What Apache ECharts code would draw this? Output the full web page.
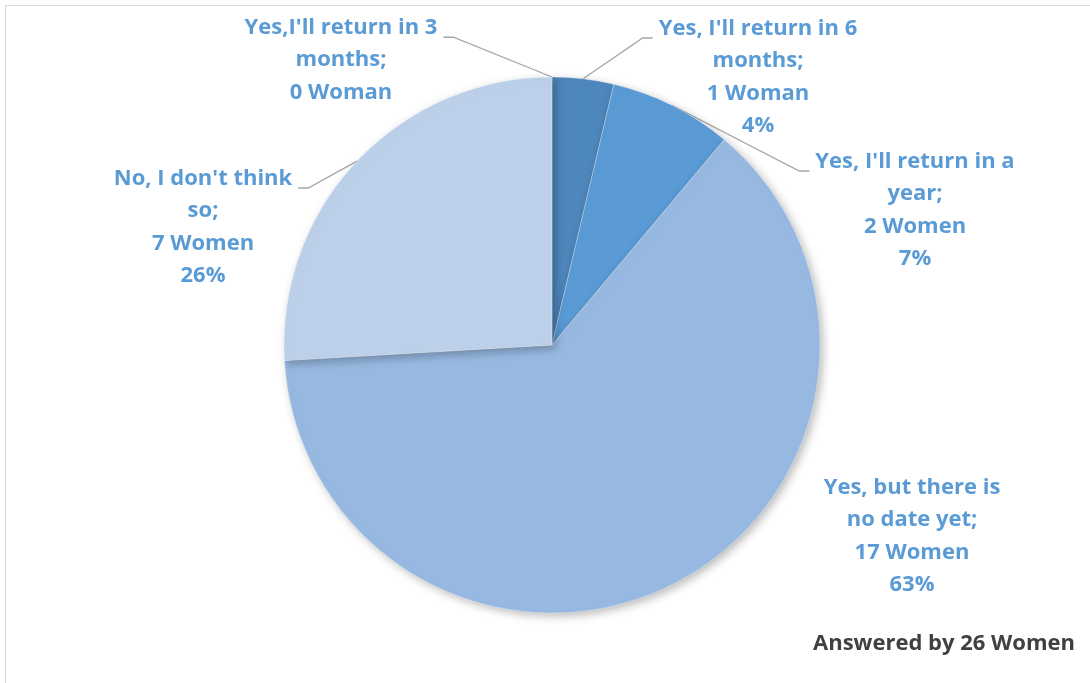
<!DOCTYPE html>
<html>
<head>
<meta charset="utf-8">
<script src="https://cdn.jsdelivr.net/npm/echarts@6/dist/echarts.min.js"></script>
<style>
  html, body { margin: 0; padding: 0; background: #fff; }
  #frame { position: absolute; left: 5px; top: 5px; width: 1090px; height: 683px;
           border-left: 1.5px solid #d9d9d9; border-top: 1.5px solid #d9d9d9; }
  #chart { position: absolute; left: 0; top: 0; width: 1090px; height: 683px; }
</style>
</head>
<body>
<div id="frame"></div>
<div id="chart"></div>
<script>
// Answers to "Will you return?"
const answers = [
  "Yes,I'll return in 3\nmonths;",
  "Yes, I'll return in 6\nmonths;",
  "Yes, I'll return in a\nyear;",
  "Yes, but there is\nno date yet;",
  "No, I don't think\nso;"
];
const counts = [0, 1, 2, 17, 7];
const countText = ["0 Woman", "1 Woman", "2 Women", "17 Women", "7 Women"];
const sliceColors = ["#41729f", "#4e87bc", "#5a9ad5", "#97b8e0", "#bdd0ea"];
const footnote = "Answered by 26 Women";

// pie geometry and where each label block sits (centre of the text block)
const PIE_CENTER = [552, 345];
const PIE_RADIUS = 268;
const LINE_HEIGHT = 32.5;
const labelSpots = [[341, 60], [758, 77], [915, 210], [912, 536], [203, 227]];

const total = counts.reduce((a, b) => a + b, 0);

// mid angle of each slice, clockwise from 12 o'clock
const midAngles = [];
{
  let acc = 0;
  counts.forEach(v => {
    midAngles.push((acc + v / 2) / total * 2 * Math.PI);
    acc += v;
  });
}

const chart = echarts.init(document.getElementById('chart'), null, { renderer: 'canvas' });

chart.setOption({
  animation: false,
  title: {
    text: footnote,
    right: 10,
    top: 628,
    textStyle: { fontFamily: 'Open Sans', fontWeight: 'bold', fontSize: 22, color: '#404040' }
  },
  series: [{
    type: 'pie',
    center: PIE_CENTER,
    radius: PIE_RADIUS,
    startAngle: 90,
    clockwise: true,
    avoidLabelOverlap: false,
    data: answers.map((name, i) => ({
      name: name,
      value: counts[i],
      itemStyle: { color: sliceColors[i] },
      labelLine: { show: i !== 3 }
    })),
    itemStyle: {
      borderColor: 'rgba(255,255,255,0.5)',
      borderWidth: 0.6,
      shadowBlur: 10,
      shadowOffsetX: 3,
      shadowOffsetY: 3,
      shadowColor: 'rgba(0,0,0,0.28)'
    },
    label: {
      show: true,
      position: 'outside',
      fontFamily: 'Open Sans',
      fontWeight: 'bold',
      fontSize: 22,
      lineHeight: LINE_HEIGHT,
      color: '#5b9bd5',
      align: 'center',
      formatter: p => {
        const i = p.dataIndex;
        let s = answers[i] + '\n' + countText[i];
        if (counts[i] > 0) s += '\n' + Math.round(counts[i] / total * 100) + '%';
        return s;
      }
    },
    labelLine: {
      show: true,
      lineStyle: { color: '#a6a6a6', width: 1.3 }
    },
    labelLayout: p => {
      const i = p.dataIndex;
      const [lx, ly] = labelSpots[i];
      const out = { x: lx, y: ly, align: 'center', verticalAlign: 'middle' };
      if (i === 3) return out;
      // leader line: slice edge -> short horizontal stub beside the first text line
      const a = midAngles[i];
      const ax = PIE_CENTER[0] + PIE_RADIUS * Math.sin(a);
      const ay = PIE_CENTER[1] - PIE_RADIUS * Math.cos(a);
      const halfW = p.labelRect.width / 2;
      const top = ly - p.labelRect.height / 2;
      const sy = top + LINE_HEIGHT * 0.8;
      const side = ax > lx ? 1 : -1;
      const ex = lx + side * (halfW + 6);
      const bx = ex + side * 10;
      out.labelLinePoints = [[ax, ay], [bx, sy], [ex, sy]];
      return out;
    },
    emphasis: { disabled: true }
  }]
});
</script>
</body>
</html>
